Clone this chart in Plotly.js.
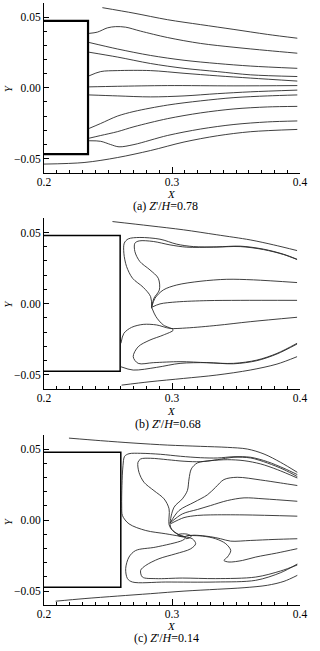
<!DOCTYPE html>
<html>
<head>
<meta charset="utf-8">
<script src="https://cdn.plot.ly/plotly-3.0.1.min.js"></script>
<style>html,body{margin:0;padding:0;background:#fff;}#chart{width:320px;height:651px;}</style>
</head>
<body>
<div id="chart"></div>
<script>
// ---------- Panel (a) Z'/H = 0.78 ----------
const boxAx = [0.2, 0.2344, 0.2344, 0.2];
const boxAy = [0.0473, 0.0473, -0.0469, -0.0469];
const A1x = [0.2456,0.2703,0.2964,0.3224,0.3484,0.3745,0.3979];
const A1y = [0.0567,0.0528,0.0482,0.0447,0.0413,0.0378,0.0351];
const A2x = [0.2352,0.2417,0.2495,0.2560,0.2638,0.2755,0.2964,0.3224,0.3484,0.3745,0.3979];
const A2y = [0.0385,0.0394,0.0424,0.0433,0.0429,0.0401,0.0356,0.0314,0.0287,0.0264,0.0245];
const A3x = [0.2352,0.2573,0.2833,0.3094,0.3354,0.3615,0.3979];
const A3y = [0.0321,0.0275,0.0229,0.0195,0.0172,0.0154,0.0138];
const A4x = [0.2352,0.2573,0.2833,0.3094,0.3354,0.3615,0.3979];
const A4y = [0.0252,0.0218,0.0172,0.0138,0.0115,0.0092,0.0080];
const A5x = [0.2352,0.2443,0.2573,0.2833,0.3094,0.3354,0.3615,0.3979];
const A5y = [0.0085,0.0115,0.0122,0.0122,0.0103,0.0085,0.0069,0.0048];
const A6x = [0.2352,0.2573,0.2964,0.3484,0.3979];
const A6y = [0.0007,0.0011,0.0016,0.0014,0.0016];
const A7x = [0.2352,0.2573,0.2833,0.3094,0.3354,0.3615,0.3979];
const A7y = [-0.0050,-0.0057,-0.0064,-0.0057,-0.0041,-0.0028,-0.0016];
const A8x = [0.2352,0.2443,0.2573,0.2703,0.2964,0.3224,0.3484,0.3745,0.3979];
const A8y = [-0.0287,-0.0252,-0.0200,-0.0167,-0.0122,-0.0092,-0.0069,-0.0057,-0.0050];
const A9x = [0.2352,0.2443,0.2573,0.2703,0.2964,0.3224,0.3484,0.3745,0.3979];
const A9y = [-0.0356,-0.0337,-0.0310,-0.0275,-0.0218,-0.0177,-0.0149,-0.0135,-0.0131];
const A10x = [0.2352,0.2443,0.2521,0.2586,0.2703,0.2964,0.3224,0.3484,0.3745,0.3979];
const A10y = [-0.0374,-0.0378,-0.0401,-0.0417,-0.0401,-0.0337,-0.0291,-0.0259,-0.0241,-0.0234];
const A11x = [0.2000,0.2313,0.2573,0.2833,0.3094,0.3354,0.3615,0.3979];
const A11y = [-0.0539,-0.0528,-0.0493,-0.0443,-0.0383,-0.0339,-0.0310,-0.0294];

// ---------- Panel (b) Z'/H = 0.68 ----------
const boxBx = [0.2, 0.2595, 0.2595, 0.2];
const boxBy = [0.0479, 0.0479, -0.0476, -0.0476];
const B1x = [0.2535,0.2828,0.3089,0.3350,0.3611,0.3794,0.3977];
const B1y = [0.0577,0.0547,0.0519,0.0484,0.0448,0.0413,0.0373];
const B2x = [0.2841,0.2833,0.2775,0.2692,0.2645,0.2624,0.2627,0.2658,0.2749,0.2906,0.3037,0.3167,0.3350,0.3533,0.3715,0.3872,0.3977];
const B2y = [-0.0033,0.0049,0.0115,0.0178,0.0261,0.0354,0.0425,0.0455,0.0465,0.0453,0.0418,0.0401,0.0399,0.0404,0.0383,0.0347,0.0312];
const B3x = [0.2841,0.2859,0.2901,0.2893,0.2828,0.2749,0.2710,0.2710,0.2744,0.2854,0.2984,0.3115,0.3324,0.3533,0.3715,0.3872,0.3977];
const B3y = [-0.0021,0.0038,0.0096,0.0178,0.0237,0.0296,0.0366,0.0425,0.0441,0.0437,0.0413,0.0397,0.0397,0.0401,0.0380,0.0345,0.0310];
const B4x = [0.2841,0.2867,0.2932,0.3037,0.3219,0.3428,0.3637,0.3977];
const B4y = [-0.0026,0.0038,0.0096,0.0131,0.0157,0.0171,0.0167,0.0148];
const B5x = [0.2841,0.2906,0.3037,0.3272,0.3533,0.3977];
const B5y = [-0.0026,-0.0002,0.0012,0.0021,0.0023,0.0023];
const B6x = [0.2601,0.2624,0.2684,0.2775,0.2880,0.2984,0.3115,0.3350,0.3611,0.3977];
const B6y = [-0.0279,-0.0209,-0.0167,-0.0146,-0.0150,-0.0174,-0.0171,-0.0153,-0.0127,-0.0096];
const B7x = [0.2841,0.2875,0.2932,0.3010,0.2932,0.2828,0.2736,0.2697,0.2736,0.2854,0.3063,0.3272,0.3480,0.3663,0.3820,0.3977];
const B7y = [-0.0026,-0.0092,-0.0150,-0.0185,-0.0221,-0.0256,-0.0303,-0.0373,-0.0420,-0.0415,-0.0408,-0.0415,-0.0420,-0.0397,-0.0350,-0.0279];
const B8x = [0.2601,0.2697,0.2880,0.3063,0.3272,0.3480,0.3663,0.3820,0.3977];
const B8y = [-0.0444,-0.0467,-0.0448,-0.0420,-0.0415,-0.0423,-0.0401,-0.0354,-0.0284];
const B9x = [0.2606,0.2828,0.3089,0.3350,0.3611,0.3820,0.3977];
const B9y = [-0.0573,-0.0549,-0.0526,-0.0502,-0.0467,-0.0425,-0.0373];

// ---------- Panel (c) Z'/H = 0.14 ----------
const boxCx = [0.2, 0.26, 0.26, 0.2];
const boxCy = [0.0479, 0.0479, -0.0472, -0.0472];
const C1x = [0.2195,0.2443,0.2703,0.2964,0.3224,0.3432,0.3589,0.3719,0.3849,0.3979];
const C1y = [0.0578,0.0560,0.0543,0.0529,0.0520,0.0513,0.0501,0.0466,0.0407,0.0337];
const C2x = [0.3107,0.3055,0.2951,0.2795,0.2664,0.2613,0.2607,0.2609,0.2617,0.2630,0.2664,0.2755,0.2911,0.3068,0.3224,0.3354,0.3484,0.3615,0.3745,0.3875,0.3979];
const C2y = [-0.0119,-0.0112,-0.0096,-0.0073,-0.0026,0.0032,0.0100,0.0244,0.0384,0.0450,0.0468,0.0471,0.0464,0.0450,0.0440,0.0438,0.0447,0.0443,0.0412,0.0365,0.0321];
const C3x = [0.3107,0.3055,0.3003,0.2977,0.2977,0.2938,0.2859,0.2781,0.2742,0.2734,0.2755,0.2833,0.2964,0.3094,0.3224,0.3354,0.3484,0.3615,0.3745,0.3875,0.3979];
const C3y = [-0.0119,-0.0105,-0.0072,-0.0032,0.0080,0.0150,0.0208,0.0267,0.0337,0.0407,0.0431,0.0436,0.0426,0.0415,0.0412,0.0426,0.0443,0.0438,0.0403,0.0356,0.0307];
const C4x = [0.3107,0.3050,0.2998,0.2985,0.3016,0.3081,0.3120,0.3133,0.3151,0.3198,0.3302,0.3432,0.3563,0.3693,0.3823,0.3979];
const C4y = [-0.0119,-0.0100,-0.0065,-0.0030,0.0091,0.0150,0.0208,0.0290,0.0361,0.0403,0.0419,0.0426,0.0419,0.0396,0.0356,0.0297];
const C5x = [0.2985,0.3055,0.3172,0.3276,0.3341,0.3406,0.3510,0.3693,0.3849,0.3979];
const C5y = [-0.0020,0.0068,0.0126,0.0178,0.0232,0.0286,0.0302,0.0283,0.0262,0.0244];
const C6x = [0.2985,0.3081,0.3198,0.3302,0.3432,0.3563,0.3719,0.3979];
const C6y = [-0.0020,0.0044,0.0075,0.0103,0.0138,0.0157,0.0150,0.0133];
const C7x = [0.2990,0.3094,0.3198,0.3302,0.3563,0.3979];
const C7y = [-0.0025,0.0018,0.0033,0.0037,0.0037,0.0028];
const C8x = [0.3107,0.3172,0.3302,0.3380,0.3458,0.3615,0.3797,0.3979];
const C8y = [-0.0112,-0.0106,-0.0117,-0.0131,-0.0148,-0.0143,-0.0136,-0.0131];
const C9x = [0.3120,0.3238,0.3341,0.3420,0.3459,0.3433,0.3406,0.3445,0.3550,0.3654,0.3817,0.3979];
const C9y = [-0.0108,-0.0112,-0.0131,-0.0166,-0.0214,-0.0260,-0.0284,-0.0295,-0.0284,-0.0260,-0.0232,-0.0201];
const C10x = [0.3107,0.3081,0.2873,0.2716,0.2664,0.2638,0.2652,0.2691,0.2951,0.3341,0.3654,0.3849,0.3979];
const C10y = [-0.0125,-0.0143,-0.0190,-0.0214,-0.0260,-0.0342,-0.0412,-0.0436,-0.0436,-0.0436,-0.0424,-0.0370,-0.0309];
const C11x = [0.3107,0.3159,0.3185,0.3146,0.3029,0.2898,0.2795,0.2755,0.2769,0.2873,0.3081,0.3341,0.3654,0.3849,0.3979];
const C11y = [-0.0118,-0.0131,-0.0166,-0.0202,-0.0237,-0.0272,-0.0319,-0.0354,-0.0401,-0.0412,-0.0408,-0.0412,-0.0401,-0.0358,-0.0316];
const C12x = [0.2091,0.2313,0.2573,0.2833,0.3094,0.3354,0.3563,0.3745,0.3875,0.3979];
const C12y = [-0.0571,-0.0553,-0.0535,-0.0518,-0.0500,-0.0487,-0.0476,-0.0459,-0.0431,-0.0389];
const C13x = [0.3107,0.3060,0.3045,0.3070,0.3120,0.3150,0.3135,0.3107];
const C13y = [-0.0119,-0.0114,-0.0104,-0.0097,-0.0099,-0.0112,-0.0126,-0.0131];

// captions
const captions = ["(a) <i>Z</i>'/<i>H</i>=0.78", "(b) <i>Z</i>'/<i>H</i>=0.68", "(c) <i>Z</i>'/<i>H</i>=0.14"];

const streamColor = '#2a2a2a';
function stream(x, y, ax) {
  return {x: x, y: y, xaxis: 'x' + ax, yaxis: 'y' + ax, type: 'scatter', mode: 'lines',
    line: {color: streamColor, width: 0.9, shape: 'spline', smoothing: 0.9}, hoverinfo: 'skip', showlegend: false};
}
function box(x, y, ax, w) {
  return {x: x, y: y, xaxis: 'x' + ax, yaxis: 'y' + ax, type: 'scatter', mode: 'lines',
    line: {color: '#000', width: w}, hoverinfo: 'skip', showlegend: false, cliponaxis: false};
}

const traces = [
  box(boxAx, boxAy, '', 2.2),
  stream(A1x, A1y, ''), stream(A2x, A2y, ''), stream(A3x, A3y, ''), stream(A4x, A4y, ''),
  stream(A5x, A5y, ''), stream(A6x, A6y, ''), stream(A7x, A7y, ''), stream(A8x, A8y, ''),
  stream(A9x, A9y, ''), stream(A10x, A10y, ''), stream(A11x, A11y, ''),
  box(boxBx, boxBy, '2', 1.5),
  stream(B1x, B1y, '2'), stream(B2x, B2y, '2'), stream(B3x, B3y, '2'), stream(B4x, B4y, '2'),
  stream(B5x, B5y, '2'), stream(B6x, B6y, '2'), stream(B7x, B7y, '2'), stream(B8x, B8y, '2'),
  stream(B9x, B9y, '2'),
  box(boxCx, boxCy, '3', 1.5),
  stream(C1x, C1y, '3'), stream(C2x, C2y, '3'), stream(C3x, C3y, '3'), stream(C4x, C4y, '3'),
  stream(C5x, C5y, '3'), stream(C6x, C6y, '3'), stream(C7x, C7y, '3'), stream(C8x, C8y, '3'),
  stream(C9x, C9y, '3'), stream(C10x, C10y, '3'), stream(C11x, C11y, '3'), stream(C12x, C12y, '3'),
  stream(C13x, C13y, '3')
];

const font = {family: 'Liberation Serif, Times New Roman, serif', size: 12, color: '#000'};
const xfont = {family: 'Liberation Serif, Times New Roman, serif', size: 11, color: '#000'};
const tfont = {family: 'Liberation Serif, Times New Roman, serif', size: 11.5, color: '#000'};
function xax(anchor) {
  return {anchor: anchor, range: [0.2, 0.4], tickmode: 'linear', tick0: 0.2, dtick: 0.1, tickformat: '.1f',
    ticks: 'inside', ticklen: 6, tickwidth: 1, tickcolor: '#000', showline: true, linecolor: '#000', linewidth: 1,
    showgrid: false, zeroline: false, mirror: false, tickfont: tfont, fixedrange: true, ticklabelstandoff: -2,
    minor: {dtick: 0.01, ticks: 'inside', ticklen: 3, tickcolor: '#000', tickwidth: 1, showgrid: false}};
}
function yax(anchor, domain) {
  return {anchor: anchor, domain: domain, range: [-0.06, 0.06], tickmode: 'linear', tick0: 0, dtick: 0.05, tickformat: '.2f',
    ticks: 'inside', ticklen: 5, tickwidth: 1, tickcolor: '#000', showline: true, linecolor: '#000', linewidth: 1,
    showgrid: false, zeroline: false, tickfont: tfont, fixedrange: true,
    minor: {dtick: 0.01, ticks: 'inside', ticklen: 3, tickcolor: '#000', tickwidth: 1, showgrid: false}};
}
const H = 651;
function py(p) { return 1 - p / H; }
function ann(text, xpx, ypx, extra) {
  return Object.assign({text: text, xref: 'paper', yref: 'paper', x: (xpx - 44) / 256, y: py(ypx),
    xanchor: 'center', yanchor: 'middle', showarrow: false, font: font}, extra || {});
}
const annotations = [
  ann('<i>X</i>', 171, 193.5, {font: xfont}), ann(captions[0], 165, 206.5),
  ann('<i>X</i>', 171, 411.5, {font: xfont}), ann(captions[1], 168, 423.5),
  ann('<i>X</i>', 171, 625.5, {font: xfont}), ann(captions[2], 166, 638),
  ann('<i>Y</i>', 8, 88.3, {textangle: -90, font: xfont}),
  ann('<i>Y</i>', 8, 303.7, {textangle: -90, font: xfont}),
  ann('<i>Y</i>', 8, 521.3, {textangle: -90, font: xfont})
];

const layout = {
  width: 320, height: 651, margin: {l: 44, r: 20, t: 0, b: 0},
  paper_bgcolor: '#fff', plot_bgcolor: '#fff', showlegend: false, font: font,
  xaxis: xax('y'), yaxis: yax('x', [0.7347, 0.9954]),
  xaxis2: xax('y2'), yaxis2: yax('x2', [0.4025, 0.6647]),
  xaxis3: xax('y3'), yaxis3: yax('x3', [0.0702, 0.3318]),
  annotations: annotations
};
Plotly.newPlot('chart', traces, layout, {staticPlot: true, displayModeBar: false});
</script>
</body>
</html>
